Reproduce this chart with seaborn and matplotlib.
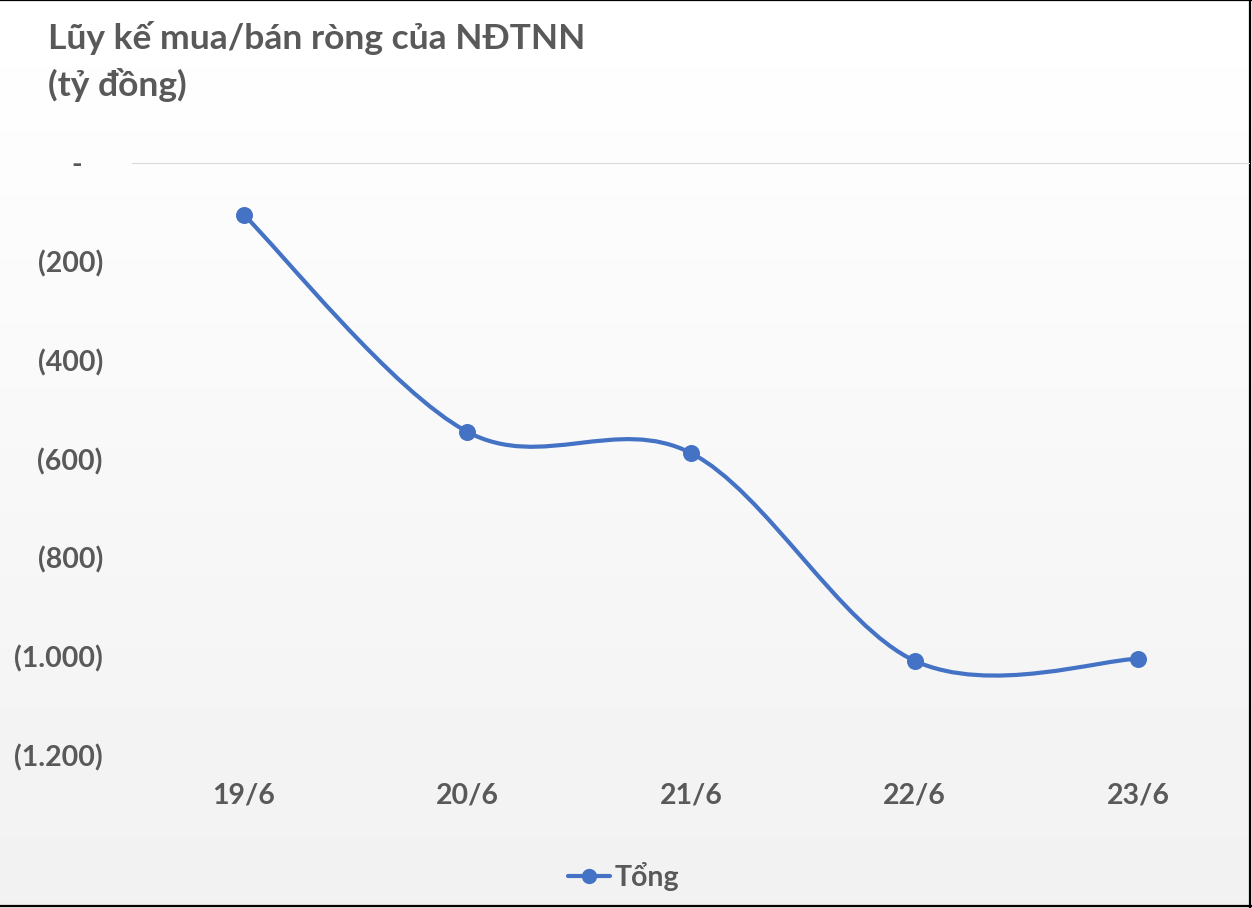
import numpy as np
import pandas as pd
import matplotlib
matplotlib.use("Agg")
import matplotlib.pyplot as plt
import seaborn as sns
from matplotlib.path import Path
from matplotlib.patches import PathPatch
from matplotlib.lines import Line2D
from matplotlib.ticker import FuncFormatter

categories = ["19/6", "20/6", "21/6", "22/6", "23/6"]
values = [-105, -545, -588, -1009, -1005]
series_name = "Tổng"
title_text = "Lũy kế mua/bán ròng của NĐTNN\n(tỷ đồng)"
y_ticks = [0, -200, -400, -600, -800, -1000, -1200]

sns.set_style("white")
plt.rcParams["font.family"] = ["Lato", "DejaVu Sans"]
TXT = "#595959"
BLUE = "#4472C4"
FS = 20.5

fig = plt.figure(figsize=(12.52, 9.08), dpi=100)

# gradient background
bg = fig.add_axes([0, 0, 1, 1], zorder=-10)
grad = np.linspace(1.0, 0.945, 256).reshape(-1, 1)
bg.imshow(grad, aspect="auto", cmap="gray", vmin=0, vmax=1, extent=[0, 1, 0, 1])
bg.set_axis_off()
# border top, right, bottom
for xs, ys in [([0, 1], [0.9995, 0.9995]), ([0.9985, 0.9985], [0, 1]), ([0, 1], [0.0025, 0.0025])]:
    bg.add_line(Line2D(xs, ys, color="black", lw=1.6, transform=bg.transAxes))

ax = fig.add_axes([0.1054, 0.1685, 0.8931, 0.652])
ax.patch.set_alpha(0)
df = pd.DataFrame({"date": categories, "value": values})
df["pos"] = np.arange(len(df))

# smooth curve (Excel-style Catmull-Rom Bezier) through the data points
P = df[["pos", "value"]].to_numpy(dtype=float)
n = len(P)
verts = [tuple(P[0])]
codes = [Path.MOVETO]
for i in range(n - 1):
    p_prev = P[i - 1] if i > 0 else P[i]
    p_next2 = P[i + 2] if i + 2 < n else P[i + 1]
    c1 = P[i] + (P[i + 1] - p_prev) / 6.0
    c2 = P[i + 1] - (p_next2 - P[i]) / 6.0
    verts += [tuple(c1), tuple(c2), tuple(P[i + 1])]
    codes += [Path.CURVE4] * 3
ax.add_patch(PathPatch(Path(verts, codes), fill=False, edgecolor=BLUE, lw=3, capstyle="round", zorder=3))

sns.scatterplot(data=df, x="pos", y="value", ax=ax, color=BLUE, s=150, edgecolor=BLUE, linewidth=0, zorder=4, legend=False)

ax.set_xlim(-0.5, len(categories) - 0.5)
ax.set_ylim(-1200, 0)
ax.set_xticks(df["pos"])
ax.set_xticklabels(categories)
ax.set_yticks(y_ticks)

def fmt(v, _):
    if abs(v) < 1e-9:
        return "-   "
    s = f"{abs(int(round(v))):,}".replace(",", ".")
    return f"({s})" if v < 0 else s

ax.yaxis.set_major_formatter(FuncFormatter(fmt))
ax.tick_params(axis="both", length=0, labelsize=FS, labelcolor=TXT)
ax.tick_params(axis="y", pad=21)
ax.tick_params(axis="x", pad=20)
for lab in ax.get_xticklabels() + ax.get_yticklabels():
    lab.set_fontweight("bold")
ax.set_xlabel("")
ax.set_ylabel("")
ax.axhline(0, color="#d9d9d9", lw=1.5, zorder=1)
for s in ax.spines.values():
    s.set_visible(False)

fig.text(0.038, 0.977, title_text, ha="left", va="top", fontsize=25.5, fontweight="bold",
         color=TXT, linespacing=1.48)

handle = Line2D([], [], color=BLUE, lw=3, marker="o", markersize=10)
fig.legend([handle], [series_name], loc="center", bbox_to_anchor=(0.498, 0.035), frameon=False,
           prop={"size": FS, "weight": "bold"}, labelcolor=TXT, handlelength=1.5, handletextpad=0.15)

fig.savefig("out.png", dpi=100)
